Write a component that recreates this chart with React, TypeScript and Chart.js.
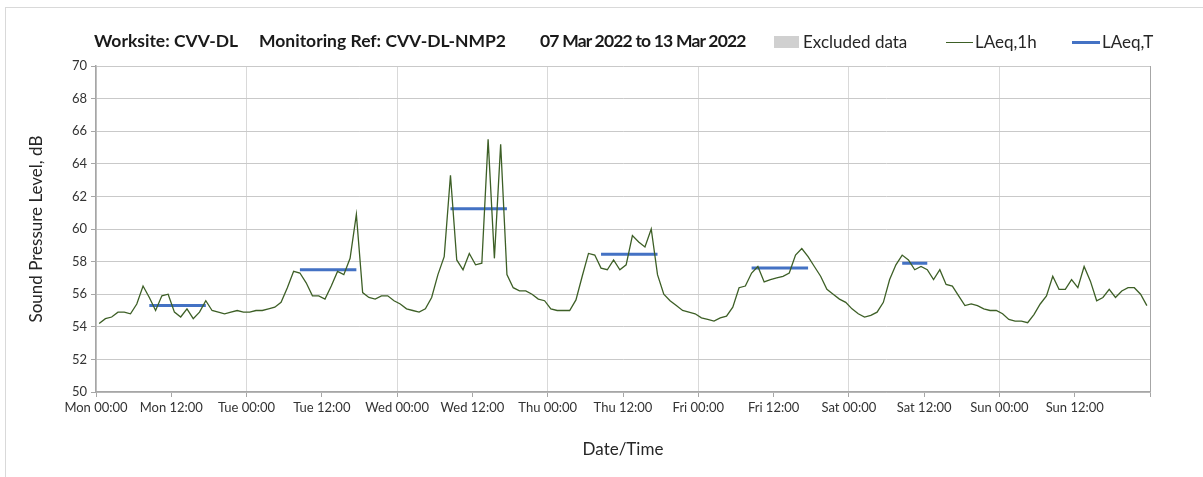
import React, { useEffect, useRef } from "react";
import { Chart, registerables } from "chart.js";

Chart.register(...registerables);

// ---- Data ----
const xTickLabels = [
  "Mon 00:00", "Mon 12:00", "Tue 00:00", "Tue 12:00", "Wed 00:00", "Wed 12:00",
  "Thu 00:00", "Thu 12:00", "Fri 00:00", "Fri 12:00", "Sat 00:00", "Sat 12:00",
  "Sun 00:00", "Sun 12:00", "",
];

// hourly LAeq,1h values, Mon 00:00 .. Sun 23:00
const laeqMon = [54.2, 54.5, 54.6, 54.9, 54.9, 54.8, 55.4, 56.5, 55.8, 55.0, 55.9, 56.0, 54.9, 54.6, 55.1, 54.5, 54.9, 55.6, 55.0, 54.9, 54.8, 54.9, 55.0, 54.9];
const laeqTue = [54.9, 55.0, 55.0, 55.1, 55.2, 55.5, 56.4, 57.4, 57.3, 56.7, 55.9, 55.9, 55.7, 56.5, 57.4, 57.2, 58.2, 60.9, 56.1, 55.8, 55.7, 55.9, 55.9, 55.6];
const laeqWed = [55.4, 55.1, 55.0, 54.9, 55.1, 55.8, 57.2, 58.3, 63.3, 58.1, 57.5, 58.5, 57.8, 57.9, 65.5, 58.2, 65.2, 57.2, 56.4, 56.2, 56.2, 56.0, 55.7, 55.6];
const laeqThu = [55.1, 55.0, 55.0, 55.0, 55.65, 57.1, 58.5, 58.4, 57.6, 57.5, 58.1, 57.5, 57.8, 59.6, 59.2, 58.9, 60.0, 57.2, 56.0, 55.6, 55.3, 55.0, 54.9, 54.8];
const laeqFri = [54.55, 54.45, 54.35, 54.55, 54.65, 55.2, 56.4, 56.5, 57.3, 57.7, 56.75, 56.9, 57.0, 57.1, 57.3, 58.4, 58.8, 58.3, 57.7, 57.1, 56.3, 56.0, 55.7, 55.5];
const laeqSat = [55.1, 54.8, 54.6, 54.7, 54.9, 55.5, 56.9, 57.8, 58.4, 58.1, 57.5, 57.7, 57.5, 56.9, 57.5, 56.6, 56.5, 55.9, 55.3, 55.4, 55.3, 55.1, 55.0, 55.0];
const laeqSun = [54.8, 54.45, 54.35, 54.35, 54.25, 54.75, 55.4, 55.9, 57.1, 56.3, 56.3, 56.9, 56.4, 57.7, 56.8, 55.6, 55.8, 56.3, 55.8, 56.2, 56.4, 56.4, 56.0, 55.3];

// LAeq,T periods (hour index from Mon 00:00)
const periodStartHour = [8, 32, 56, 80, 104, 128];
const periodEndHour = [17, 41, 65, 89, 113, 132];
const laeqTValues = [55.3, 57.5, 61.25, 58.45, 57.6, 57.9];

const FONT = "Lato, 'Open Sans', sans-serif";

export default function App() {
  const canvasRef = useRef<HTMLCanvasElement | null>(null);

  useEffect(() => {
    const canvas = canvasRef.current;
    if (!canvas) return;

    const hourly = [...laeqMon, ...laeqTue, ...laeqWed, ...laeqThu, ...laeqFri, ...laeqSat, ...laeqSun];
    const lineData = hourly.map((v, i) => ({ x: i + 0.5, y: v }));

    const tData: { x: number; y: number | null }[] = [];
    periodStartHour.forEach((s, k) => {
      tData.push({ x: s + 0.5, y: laeqTValues[k] });
      tData.push({ x: periodEndHour[k] + 0.5, y: laeqTValues[k] });
      tData.push({ x: periodEndHour[k] + 1, y: null });
    });

    const chart = new Chart(canvas, {
      type: "line",
      data: {
        datasets: [
          {
            label: "LAeq,1h",
            data: lineData,
            borderColor: "#3d5f26",
            borderWidth: 1.3,
            pointRadius: 0,
            tension: 0,
          },
          {
            label: "LAeq,T",
            data: tData,
            borderColor: "#4472c4",
            borderWidth: 3,
            pointRadius: 0,
            spanGaps: false,
          },
        ],
      },
      options: {
        responsive: false,
        animation: false,
        layout: { padding: { left: 0, right: 53, top: 66, bottom: 0 } },
        plugins: {
          legend: { display: false },
          title: { display: false },
          tooltip: { enabled: false },
        },
        scales: {
          x: {
            type: "linear",
            min: 0,
            max: 168,
            offset: false,
            afterBuildTicks: (s: any) => {
              s.ticks = xTickLabels.map((_, k) => ({ value: k * 12 }));
            },
            afterFit: (s: any) => {
              s.height = 85;
            },
            ticks: {
              autoSkip: false,
              maxRotation: 0,
              minRotation: 0,
              padding: 3,
              color: "#333333",
              font: { family: FONT, size: 13 },
              callback: (_v: any, idx: number) => xTickLabels[idx],
            },
            grid: {
              offset: false,
              color: (ctx: any) => {
                const v = ctx.tick ? ctx.tick.value : 0;
                if (v === 168) return "#a6a6a6";
                return v % 24 === 0 ? "#d9d9d9" : "rgba(0,0,0,0)";
              },
              tickColor: "#a6a6a6",
              tickLength: 5,
              lineWidth: 1,
            },
            border: { color: "#a6a6a6", width: 1.5 },
            title: {
              display: true,
              text: "Date/Time",
              color: "#262626",
              font: { family: FONT, size: 17 },
              padding: { top: 0, bottom: 17 },
            },
          },
          y: {
            min: 50,
            max: 70,
            afterFit: (s: any) => {
              s.width = 96;
            },
            ticks: {
              stepSize: 2,
              padding: 4,
              color: "#333333",
              font: { family: FONT, size: 13 },
            },
            grid: {
              color: "#c9c9c9",
              tickColor: "#a6a6a6",
              tickLength: 5,
              lineWidth: 1,
            },
            border: { color: "#a6a6a6", width: 1.5 },
            title: {
              display: true,
              text: "Sound Pressure Level, dB",
              color: "#262626",
              font: { family: FONT, size: 17 },
              padding: { top: 26, bottom: 0 },
            },
          },
        },
      },
    });

    return () => chart.destroy();
  }, []);

  const titleStyle: React.CSSProperties = {
    position: "absolute",
    top: 30,
    fontFamily: FONT,
    fontWeight: 700,
    fontSize: 17.5,
    color: "#1a1a1a",
    whiteSpace: "nowrap",
    lineHeight: "22px",
  };
  const legendText: React.CSSProperties = {
    position: "absolute",
    top: 31,
    fontFamily: FONT,
    fontSize: 17,
    color: "#262626",
    whiteSpace: "nowrap",
    lineHeight: "22px",
  };

  return (
    <div style={{ position: "absolute", left: 0, top: 0, width: 1203, height: 477, background: "#ffffff", overflow: "hidden" }}>
      <div style={{ position: "absolute", left: 5, top: 7, width: 1300, height: 600, borderTop: "1px solid #d9d9d9", borderLeft: "1px solid #d9d9d9" }} />
      <canvas ref={canvasRef} width={1203} height={477} style={{ position: "absolute", left: 0, top: 0, width: 1203, height: 477 }} />
      <div style={{ ...titleStyle, left: 94 }}>Worksite: CVV-DL</div>
      <div style={{ ...titleStyle, left: 259 }}>Monitoring Ref: CVV-DL-NMP2</div>
      <div style={{ ...titleStyle, left: 540, letterSpacing: "-0.8px" }}>07 Mar 2022 to 13 Mar 2022</div>
      <div style={{ position: "absolute", left: 774, top: 36, width: 25, height: 12, background: "#d0d0d0" }} />
      <div style={{ ...legendText, left: 803 }}>Excluded data</div>
      <div style={{ position: "absolute", left: 946, top: 41.5, width: 27, height: 1.3, background: "#3d5f26" }} />
      <div style={{ ...legendText, left: 975 }}>LAeq,1h</div>
      <div style={{ position: "absolute", left: 1072, top: 41, width: 28, height: 3, background: "#4472c4" }} />
      <div style={{ ...legendText, left: 1102 }}>LAeq,T</div>
    </div>
  );
}
